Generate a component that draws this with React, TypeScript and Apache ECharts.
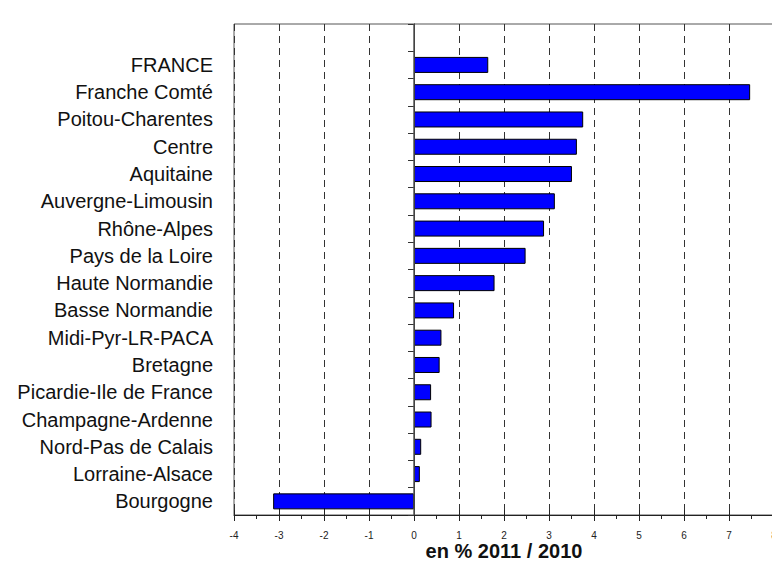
import React, { useEffect, useRef } from "react";
import * as echarts from "echarts";

const categories = [
  "FRANCE",
  "Franche Comté",
  "Poitou-Charentes",
  "Centre",
  "Aquitaine",
  "Auvergne-Limousin",
  "Rhône-Alpes",
  "Pays de la Loire",
  "Haute Normandie",
  "Basse Normandie",
  "Midi-Pyr-LR-PACA",
  "Bretagne",
  "Picardie-Ile de France",
  "Champagne-Ardenne",
  "Nord-Pas de Calais",
  "Lorraine-Alsace",
  "Bourgogne",
];

const values = [
  1.65, 7.47, 3.76, 3.62, 3.51, 3.13, 2.89, 2.48, 1.79, 0.89, 0.61, 0.57, 0.38,
  0.39, 0.16, 0.13, -3.13,
];

const xMin = -4;
const xMax = 8;
const xInterval = 1;
const axisTitle = "en % 2011 / 2010";

export default function App() {
  const ref = useRef<HTMLDivElement>(null);

  useEffect(() => {
    if (!ref.current) return;
    const chart = echarts.init(ref.current, null, { renderer: "svg" });
    const font = "Arial, 'Liberation Sans', sans-serif";
    chart.setOption({
      animation: false,
      grid: {
        left: 234,
        top: 24,
        width: 540,
        height: 491,
        show: true,
        borderColor: "#555",
        borderWidth: 1,
        containLabel: false,
        outerBoundsMode: "none",
      },
      xAxis: [
        {
          type: "value",
          min: xMin,
          max: xMax,
          interval: xInterval,
          position: "bottom",
          axisLine: { show: true, onZero: false, lineStyle: { color: "#222", width: 1 } },
          axisTick: { show: true, inside: false, length: 6, lineStyle: { color: "#222" } },
          minorTick: { show: true, splitNumber: 2, length: 4, lineStyle: { color: "#222" } },
          axisLabel: {
            show: true,
            fontSize: 10,
            color: "#222",
            fontFamily: font,
            margin: 15,
            showMaxLabel: true,
            showMinLabel: true,
          },
          splitLine: {
            show: true,
            lineStyle: { color: "#333", type: [7, 5], width: 1 },
          },
          name: axisTitle,
          nameLocation: "middle",
          nameGap: 26,
          nameMoveOverlap: false,
          nameTextStyle: {
            fontSize: 20,
            lineHeight: 20,
            fontWeight: "bold",
            color: "#111",
            fontFamily: font,
          },
        },
        {
          type: "value",
          min: xMin,
          max: xMax,
          interval: xInterval,
          position: "bottom",
          axisLine: { show: false },
          axisTick: { show: true, inside: true, length: 5, lineStyle: { color: "#222" } },
          minorTick: { show: false },
          axisLabel: { show: false },
          splitLine: { show: false },
        },
      ],
      yAxis: {
        type: "category",
        inverse: true,
        data: ["", ...categories],
        axisLine: { show: true, lineStyle: { color: "#111", width: 1 } },
        axisTick: { show: true, inside: false, length: 6, interval: 0, lineStyle: { color: "#333" } },
        axisLabel: {
          interval: 0,
          fontSize: 20,
          color: "#111",
          fontFamily: font,
          margin: 21,
        },
        splitLine: { show: false },
      },
      series: [
        {
          type: "bar",
          xAxisIndex: 0,
          data: [null, ...values],
          barWidth: 16,
          itemStyle: { color: "#0000ff", borderColor: "#000", borderWidth: 1 },
          markLine: {
            silent: true,
            symbol: "none",
            label: { show: false },
            lineStyle: { color: "#555", type: "solid", width: 1.5 },
            data: [{ xAxis: 0 }],
          },
        },
      ],
    });
    return () => chart.dispose();
  }, []);

  return (
    <div
      ref={ref}
      style={{ position: "absolute", left: 0, top: 0, width: 772, height: 564 }}
    />
  );
}
